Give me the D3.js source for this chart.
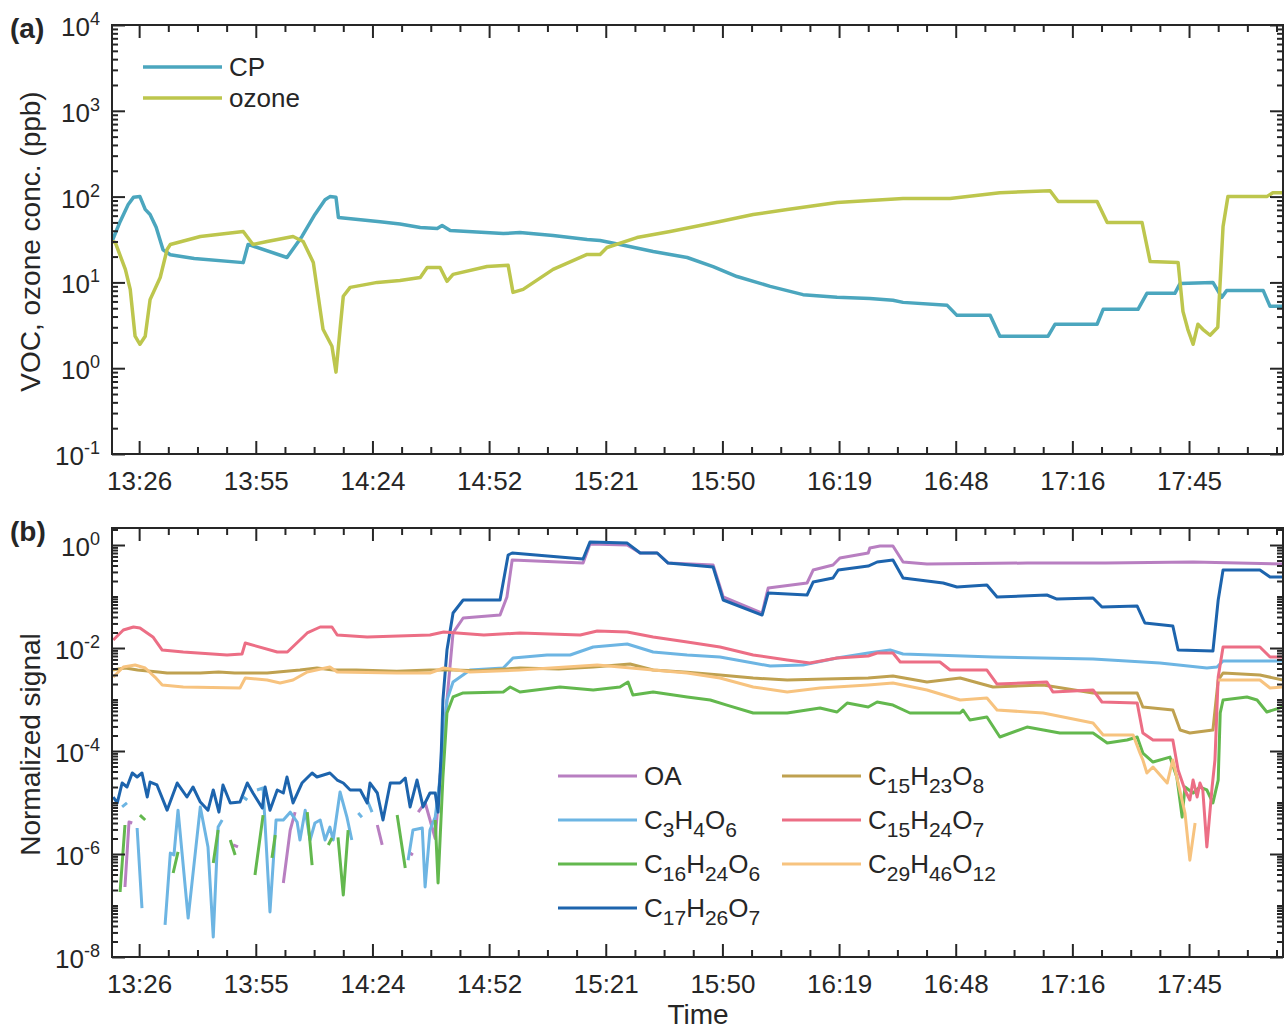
<!DOCTYPE html>
<html lang="en">
<head>
  <meta charset="utf-8">
  <title>VOC, ozone and normalized signals</title>
  <style>
    body {
      margin:0;
      background-color:#fff;
    }
    svg text {
      font-family:"Liberation Sans", Arial, sans-serif;
      fill:#262626;
    }
    .axis line {
      stroke:#262626;
      stroke-width:2;
    }
  </style>
</head>
<body>
  <svg id="chart" width="1285" height="1031"></svg>
  <script src="https://d3js.org/d3.v7.min.js"></script>
  <script>
    // times are minutes after midnight, ticks every 0.02 day
    var xTickTimes = [806.4, 835.2, 864.0, 892.8, 921.6, 950.4, 979.2, 1008.0, 1036.8, 1065.6];
    var xTickLabels = ["13:26","13:55","14:24","14:52","15:21","15:50","16:19","16:48","17:16","17:45"];
    var xDomain = [799.7, 1088.8];

    // panel (a): ppb
    var cp = [[799.7,30],[801.7,51],[803.7,81],[805.0,98],[806.6,100],[807.9,71],[809.1,62],[810.6,44],[812.3,24],[814.1,21],[820,19],[832.1,17],[833.3,27.7],[842.9,19.5],[846.6,34.3],[849.8,62],[852.3,92],[853.5,100],[855.0,98],[855.6,57],[865.9,51],[870.8,48],[875.8,43.6],[880.0,42.5],[881.2,46],[883.2,40.2],[896.3,37.1],[900.4,38.1],[908.6,35.2],[917.0,31.6],[920.2,30.8],[925.1,27.7],[933.3,22.9],[941.7,19.5],[948.1,15.3],[954.0,11.7],[962.2,9.0],[970.3,7.2],[978.7,6.7],[986.8,6.5],[992.5,6.2],[995.0,5.85],[1005.9,5.4],[1008.3,4.13],[1016.5,4.13],[1018.9,2.36],[1030.8,2.36],[1032.5,3.25],[1042.9,3.25],[1044.4,4.85],[1053.0,4.85],[1055.2,7.45],[1062.1,7.45],[1063.4,9.73],[1071.5,10],[1073.7,6.7],[1074.9,8.07],[1083.9,8.07],[1085.6,5.26],[1088.8,5.26]];
    var ozone = [[799.7,30],[800.5,29.2],[803.0,14.2],[804.2,8.3],[805.4,2.36],[806.6,1.9],[807.9,2.36],[809.1,6.3],[811.6,11.4],[813.3,24.2],[814.1,27.7],[821.5,34.3],[832.1,39.2],[834.5,27.7],[838.0,30.0],[844.4,34.3],[846.9,30.0],[849.4,17.1],[851.8,2.84],[854.0,1.8],[855.0,0.9],[856.0,2.84],[856.8,6.9],[858.5,8.75],[865.2,10],[870.8,10.5],[875.8,11.4],[877.5,14.9],[880.7,14.9],[882.4,10.3],[883.9,12.4],[892.3,15.3],[897.5,15.8],[898.7,7.65],[901.2,8.3],[908.6,14.2],[917.0,21.2],[920.2,21.2],[921.9,25.5],[929.3,33.3],[937.5,39.2],[949.8,51.2],[958.0,61.8],[966.4,70.6],[978.7,85.2],[986.8,89.8],[995.0,94.8],[1006.6,94.8],[1018.9,111],[1031.3,117],[1033.3,87.5],[1042.9,87.5],[1045.4,49.9],[1054.0,49.9],[1056.0,17.5],[1062.9,17.1],[1064.1,4.6],[1065.3,2.84],[1066.6,1.9],[1067.8,3.25],[1069.0,2.84],[1070.8,2.42],[1072.7,3.0],[1074.0,44.8],[1075.2,100],[1084.8,100],[1086.3,111],[1088.8,111]];

    // panel (b): normalized signal, null = gap
    var oa = [[802.9,2.29e-7],[803.9,4.18e-6],[804.7,4.0e-6],null,[829.6,1.5e-6],[830.8,1.37e-6],null,[842.0,2.74e-7],[843.7,2.92e-6],[844.9,6.5e-6],null,[865.2,3.66e-6],[866.4,1.5e-6],null,[873.3,1.04e-6],[874.0,9.6e-7],null,[875.3,6.5e-6],[877.0,1.0e-5],[879.5,2.0e-6],[880.7,3.1e-5],[882.4,9.8e-4],[883.9,0.0196],[886.4,0.0383],[895.5,0.0437],[897.2,0.0978],[898.5,0.511],[916.0,0.447],[917.7,1.05],[926.9,1.0],[930.1,0.70],[934.3,0.70],[937.0,0.447],[948.1,0.409],[950.6,0.0978],[960.2,0.0478],[961.7,0.146],[971.3,0.183],[972.8,0.327],[977.7,0.409],[979.4,0.56],[986.4,0.70],[986.8,0.875],[989.3,0.957],[992.5,0.957],[995.0,0.468],[1000.9,0.428],[1025.6,0.447],[1045,0.45],[1066.6,0.468],[1088.8,0.428]];
    var c3h4o6 = [[802.2,8.2e-6],[803.4,9.8e-6],null,[805.9,3.2e-6],[807.1,8.9e-8],null,[812.8,4.2e-8],[814.1,1.04e-6],[815.0,9.6e-7],[816.0,7.1e-6],[818.5,5.7e-8],[821.5,8.2e-6],[823.4,1.37e-6],[824.7,2.44e-8],[825.9,3.34e-6],[826.9,4.57e-6],null,[832.1,1.28e-5],[833.1,1.12e-5],null,[835.5,1.75e-5],[837.0,1.91e-5],[838.7,7.5e-8],[840.2,4.57e-6],[842.0,4.57e-6],[843.7,6.5e-6],[845.4,4.18e-6],[846.1,1.87e-6],[847.4,7.1e-6],[848.6,1.87e-6],[849.8,4.0e-6],[851.1,4.57e-6],[852.3,1.87e-6],[853.5,3.34e-6],[854.3,1.87e-6],[856.0,1.6e-5],[857.7,5.2e-6],[858.9,1.87e-6],null,[860.5,6.25e-6],[861.4,5.2e-6],null,[862.7,1.12e-5],[863.9,6.5e-6],null,[872.8,7.6e-7],[874.0,2.92e-6],[876.3,3.2e-6],[877.0,2.29e-7],[878.2,2.92e-6],[879.5,5.2e-6],[880.7,3.1e-5],[882.4,9.8e-4],[883.9,0.00219],[888.1,0.00374],[896.3,0.00409],[898.7,0.0064],[907.1,0.00731],[912.8,0.00731],[918.5,0.01045],[926.9,0.01197],[933.3,0.00836],[941.7,0.00731],[949.8,0.00669],[958.0,0.00512],[962.2,0.00447],[970.3,0.00468],[978.7,0.0064],[986.4,0.0080],[991.8,0.00914],[995.0,0.00764],[1017.2,0.00669],[1041.9,0.00611],[1058.4,0.00512],[1070.0,0.00409],[1072.5,0.00428],[1074.0,0.0056],[1088.8,0.0056]];
    var c16h24o6 = [[801.7,1.83e-7],[802.9,3.66e-6],null,[806.6,5.7e-6],[807.9,4.57e-6],null,[814.8,4.28e-7],[816.0,1.1e-6],null,[824.7,6.7e-7],[825.9,2.92e-6],null,[828.9,1.87e-6],[830.1,9.6e-7],null,[835.0,3.91e-7],[837.0,5.7e-6],null,[839.2,8.4e-7],[840.0,2.34e-6],null,[847.9,6.5e-6],[849.1,6.1e-7],null,[853.1,1.5e-6],[854.0,2.05e-6],null,[855.5,2.1e-6],[856.8,1.6e-7],[858.0,2.92e-6],null,[870.1,5.7e-6],[872.1,5.35e-7],null,[879.5,4.57e-6],[880.2,2.74e-7],[881.4,3.1e-5],[882.4,5.47e-4],[883.9,0.00112],[886.4,0.00134],[896.3,0.0014],[898.0,0.00175],[900.4,0.0014],[910.3,0.00175],[918.5,0.00153],[925.1,0.00175],[927.1,0.00219],[928.3,0.00122],[933.3,0.0014],[941.7,0.00112],[947.4,0.00098],[951.5,0.00078],[958.0,0.000547],[966.4,0.000547],[974.5,0.000684],[978.7,0.000572],[981.2,0.000855],[986.4,0.000715],[988.6,0.000894],[992.5,0.00078],[996.7,0.000547],[1009.1,0.000547],[1009.8,0.000625],[1011.5,0.0004],[1015.7,0.000457],[1018.9,0.000187],[1025.6,0.000292],[1033.7,0.000224],[1041.9,0.000224],[1045.4,0.000143],[1050.3,0.000164],[1052.8,0.000187],[1054.2,9.1e-5],[1056.7,6.1e-5],[1060.9,7.6e-5],[1062.6,3.1e-5],[1063.9,5.2e-6],[1064.6,2.0e-5],[1066.6,1.53e-5],[1068.3,2.0e-5],[1070.0,1.75e-5],[1071.5,9.8e-6],[1072.8,2.73e-5],[1073.3,0.000547],[1074.0,0.00098],[1079.9,0.00112],[1082.4,0.00098],[1084.8,0.000572],[1088.8,0.000715]];
    var c17h26o7 = [[800.0,1.28e-5],[801.0,9.8e-6],[802.2,2.39e-5],[803.4,2.0e-5],[804.7,3.74e-5],[805.9,3.13e-5],[807.1,3.74e-5],[808.4,1.28e-5],[809.1,2.5e-5],[810.8,2.19e-5],[813.3,7.1e-6],[815.8,2.39e-5],[818.2,1.28e-5],[819.7,2.0e-5],[821.5,1.02e-5],[823.4,7.1e-6],[824.7,1.75e-5],[826.1,6.5e-6],[827.1,2.19e-5],[828.9,9.8e-6],[831.3,1.02e-5],[833.1,2.39e-5],[834.5,1.53e-5],[836.8,7.8e-6],[837.5,2.0e-5],[838.7,7.1e-6],[840.5,1.75e-5],[842.0,1.53e-5],[842.9,3.13e-5],[844.4,9.8e-6],[846.6,2.39e-5],[849.1,3.74e-5],[850.3,3.13e-5],[853.5,3.74e-5],[855.3,2.73e-5],[856.8,2.39e-5],[858.5,1.75e-5],[861.0,1.75e-5],[862.7,9.8e-6],[863.4,2.39e-5],[865.2,1.53e-5],[866.6,4.57e-6],[868.4,2.39e-5],[870.8,2.39e-5],[872.1,2.99e-5],[873.3,8.2e-6],[875.0,2.73e-5],[876.5,8.2e-6],[878.2,1.53e-5],[879.5,1.53e-5],[880.2,6.5e-6],[881.0,1e-4],[881.4,9.8e-4],[882.4,0.00914],[883.9,0.0478],[886.4,0.0855],[895.5,0.0855],[897.5,0.64],[898.5,0.70],[916.0,0.535],[917.7,1.14],[926.9,1.09],[930.1,0.70],[934.3,0.70],[937.0,0.447],[948.1,0.374],[950.6,0.0855],[960.2,0.0437],[961.7,0.117],[971.3,0.107],[972.8,0.191],[977.7,0.229],[979.0,0.327],[986.4,0.391],[988.6,0.468],[992.5,0.511],[995.0,0.229],[1004.9,0.183],[1008.3,0.153],[1015.7,0.167],[1018.2,0.0978],[1030.5,0.107],[1033.0,0.0894],[1041.9,0.0935],[1044.1,0.0625],[1052.8,0.0654],[1054.7,0.0306],[1061.6,0.0267],[1062.9,0.00914],[1071.5,0.00874],[1072.8,0.0855],[1074.0,0.327],[1083.1,0.327],[1085.6,0.239],[1088.8,0.239]];
    var c15h23o8 = [[799.7,0.00374],[803.0,0.00409],[806,0.00374],[811.1,0.00342],[813.3,0.00327],[821.5,0.00327],[826,0.00342],[830,0.00327],[838.0,0.00327],[846.1,0.00374],[850.3,0.00409],[854.3,0.00374],[860,0.00374],[870,0.00355],[878.2,0.00374],[883.9,0.00374],[890,0.0036],[900.4,0.00409],[910,0.0039],[918.5,0.00428],[927.6,0.00489],[933.3,0.00374],[941.7,0.0034],[949.8,0.00299],[958.0,0.00261],[966.4,0.00239],[976,0.0025],[986.4,0.00261],[992.5,0.00286],[1000.9,0.00219],[1009.1,0.00261],[1017.2,0.00175],[1029.6,0.00191],[1041.9,0.00134],[1052.8,0.00134],[1054.2,0.000715],[1061.6,0.000625],[1063.4,0.000256],[1065.8,0.000224],[1071.5,0.000256],[1072.8,0.00239],[1074.0,0.00327],[1083.1,0.00299],[1088.8,0.00239]];
    var c15h24o7 = [[800.0,0.0143],[802.5,0.0224],[805.0,0.0256],[806.6,0.0245],[809.8,0.0164],[812.1,0.00914],[817.3,0.00836],[828.1,0.00731],[831.8,0.00764],[832.6,0.0125],[840.5,0.00836],[843.0,0.00836],[847.9,0.0196],[851.1,0.0256],[854.0,0.0256],[855.3,0.0179],[862.7,0.0164],[878.2,0.0179],[881.6,0.0205],[891.5,0.0179],[900.4,0.0196],[915.3,0.0179],[919.5,0.0214],[926.9,0.0205],[933.3,0.0164],[941.7,0.0131],[949.8,0.01045],[958.0,0.00731],[966.4,0.00585],[972.0,0.00512],[978.7,0.0064],[986.4,0.0070],[988.6,0.0080],[992.5,0.0080],[994.3,0.00535],[1004.1,0.00535],[1006.6,0.00374],[1015.7,0.00374],[1018.2,0.0020],[1030.5,0.00219],[1032.0,0.0014],[1041.9,0.00153],[1044.1,0.000894],[1052.8,0.000855],[1054.2,0.000224],[1056.7,0.000164],[1061.6,0.000164],[1062.9,4.27e-5],[1064.6,1.75e-5],[1065.8,1.12e-5],[1066.6,2.73e-5],[1067.6,1.28e-5],[1068.3,2.39e-5],[1069.0,1.75e-5],[1070.0,1.37e-6],[1071.3,2.0e-5],[1072.0,6.7e-5],[1072.8,0.00273],[1074.0,0.01045],[1083.1,0.01045],[1085.6,0.00669],[1088.8,0.00669]];
    var c29h46o12 = [[800.0,0.00273],[802.5,0.00428],[805.4,0.00468],[807.9,0.00409],[810.3,0.00273],[812.1,0.00191],[817.3,0.00175],[831.3,0.00167],[832.6,0.00261],[838.0,0.00239],[841.2,0.00209],[844.4,0.00239],[847.9,0.00342],[853.5,0.00428],[855.3,0.00342],[870,0.00327],[878.2,0.00327],[881.6,0.00409],[888.1,0.00342],[900.4,0.00374],[919.5,0.00468],[925.1,0.00428],[933.3,0.00374],[941.7,0.00327],[949.8,0.00261],[958.0,0.00175],[966.4,0.0014],[974.5,0.00167],[986.4,0.00191],[992.5,0.00209],[1000.9,0.00153],[1009.1,0.00098],[1015.7,0.00107],[1018.2,0.000625],[1029.6,0.000547],[1041.9,0.00035],[1044.4,0.000205],[1051.8,0.000205],[1053.5,9.1e-5],[1054.2,6.7e-5],[1055.2,3.74e-5],[1056.7,4.89e-5],[1060.2,2.39e-5],[1061.6,6.7e-5],[1064.6,6.25e-6],[1065.8,7.6e-7],[1067.1,4.0e-6],null,[1072.8,0.00239],[1074.0,0.00239],[1083.1,0.00239],[1085.6,0.00167],[1088.8,0.00175]];

    var left = 112, right = 1283;
    var svg = d3.select("#chart");

    var x = d3.scaleLinear().domain(xDomain).range([left, right]);

    // minor ticks every 7.2 min, skipping the labelled ones
    var xMinor = d3.range(0, 40).map(function(k){ return 806.4 + k * 7.2; })
        .filter(function(t, k){ return t <= xDomain[1] && k % 4 != 0; });

    function logMinors(lo, hi, every){
      var out = [];
      for(var k = lo; k <= hi; k++){
        for(var m = 2; m <= 9; m++){ out.push(m * Math.pow(10, k)); }
        if(every && (k % every) != 0){ out.push(Math.pow(10, k)); }
      }
      return out;
    }

    // "C15H23O8" -> [["C","15"],["H","23"],["O","8"]]
    function subParts(name){
      var parts = [], re = /(\D+)(\d*)/g, m;
      while((m = re.exec(name)) !== null){
        parts.push([m[1], m[2]]);
      }
      return parts;
    }

    function formula(sel, name){
      var low = false;
      subParts(name).forEach(function(p){
        sel.append("tspan").attr("dy", low ? -8 : 0).text(p[0]);
        low = false;
        if(p[1]){
          sel.append("tspan").attr("dy", 8).attr("font-size", 21).text(p[1]);
          low = true;
        }
      });
    }

    function panel(p){
      var g = svg.append("g");
      var y = d3.scaleLog().domain(p.yDomain).range([p.bottom, p.top]);

      svg.append("clipPath").attr("id", "clip-" + p.id)
        .append("rect")
        .attr("x", left).attr("y", p.top)
        .attr("width", right - left).attr("height", p.bottom - p.top);

      var line = d3.line()
          .defined(function(d){ return d !== null; })
          .x(function(d){ return x(d[0]); })
          .y(function(d){ return y(d[1]); });

      g.append("g")
        .attr("clip-path", "url(#clip-" + p.id + ")")
        .selectAll("path")
        .data(p.series).enter().append("path")
        .attr("d", function(s){ return line(s.data); })
        .attr("fill", "none")
        .attr("stroke", function(s){ return s.color; })
        .attr("stroke-width", p.lw)
        .attr("stroke-linejoin", "round");

      var ax = g.append("g").attr("class", "axis");
      ax.append("g").attr("transform", "translate(0," + p.bottom + ")")
        .call(d3.axisBottom(x).tickValues(xTickTimes).tickSizeInner(-13).tickSizeOuter(0).tickPadding(18)
          .tickFormat(function(d, i){ return xTickLabels[i]; }))
        .attr("font-size", 26);
      ax.append("g").attr("transform", "translate(0," + p.bottom + ")")
        .call(d3.axisBottom(x).tickValues(xMinor).tickSizeInner(-7).tickSizeOuter(0).tickFormat(""));
      ax.append("g").attr("transform", "translate(0," + p.top + ")")
        .call(d3.axisTop(x).tickValues(xTickTimes).tickSizeInner(-13).tickSizeOuter(0).tickFormat(""));
      ax.append("g").attr("transform", "translate(0," + p.top + ")")
        .call(d3.axisTop(x).tickValues(xMinor).tickSizeInner(-7).tickSizeOuter(0).tickFormat(""));

      var yMajor = p.yExps.map(function(e){ return Math.pow(10, e); });
      var yMinor = p.yMinor.filter(function(v){ return v >= p.yDomain[0] && v <= p.yDomain[1]; });
      [[d3.axisLeft, left], [d3.axisRight, right]].forEach(function(a){
        ax.append("g").attr("transform", "translate(" + a[1] + ",0)")
          .call(a[0](y).tickValues(yMajor).tickSizeInner(-13).tickSizeOuter(0).tickFormat(""));
        ax.append("g").attr("transform", "translate(" + a[1] + ",0)")
          .call(a[0](y).tickValues(yMinor).tickSizeInner(-6).tickSizeOuter(0).tickFormat(""));
      });
      ax.selectAll(".domain").remove();

      g.append("rect")
        .attr("x", left).attr("y", p.top)
        .attr("width", right - left).attr("height", p.bottom - p.top)
        .attr("fill", "none").attr("stroke", "#262626").attr("stroke-width", 2);

      g.selectAll(".ylab").data(p.yExps).enter().append("text")
        .attr("class", "ylab")
        .attr("x", 100)
        .attr("y", function(e){ return y(Math.pow(10, e)) + 11; })
        .attr("text-anchor", "end")
        .attr("font-size", 26)
        .each(function(e){
          var t = d3.select(this);
          t.append("tspan").text("10");
          t.append("tspan").attr("dy", -11).attr("font-size", 18).text(e);
        });

      g.append("text")
        .attr("transform", "translate(40," + ((p.top + p.bottom) / 2 + 2) + ") rotate(-90)")
        .attr("text-anchor", "middle")
        .attr("font-size", 28)
        .text(p.ylabel);

      g.append("text")
        .attr("x", 10).attr("y", p.top + 13)
        .attr("font-size", 28).attr("font-weight", "bold")
        .text(p.tag);

      var lg = g.selectAll(".leg").data(p.series).enter().append("g")
        .attr("transform", function(s, i){
          var c = p.legend(i);
          return "translate(" + c[0] + "," + c[1] + ")";
        });
      lg.append("line")
        .attr("x1", 0).attr("x2", 79)
        .attr("stroke", function(s){ return s.color; })
        .attr("stroke-width", p.lw);
      lg.append("text")
        .attr("x", 86).attr("y", 9)
        .attr("font-size", 26)
        .each(function(s){ formula(d3.select(this), s.name); });
    }

    panel({
      id: "a", tag: "(a)",
      top: 25, bottom: 454,
      yDomain: [0.1, 1e4],
      yExps: [-1, 0, 1, 2, 3, 4],
      yMinor: logMinors(-1, 3, 0),
      ylabel: "VOC, ozone conc. (ppb)",
      lw: 3.5,
      series: [
        {name: "CP", color: "#4BA6BE", data: cp},
        {name: "ozone", color: "#BDC64D", data: ozone}
      ],
      legend: function(i){ return [143, 67 + i * 31]; }
    });

    panel({
      id: "b", tag: "(b)",
      top: 528, bottom: 957,
      yDomain: [1e-8, 2.14],
      yExps: [-8, -6, -4, -2, 0],
      yMinor: logMinors(-8, 0, 2),
      ylabel: "Normalized signal",
      lw: 3,
      series: [
        {name: "OA", color: "#B87FC1", data: oa},
        {name: "C3H4O6", color: "#6DB5E3", data: c3h4o6},
        {name: "C16H24O6", color: "#63B84E", data: c16h24o6},
        {name: "C17H26O7", color: "#1D64AD", data: c17h26o7},
        {name: "C15H23O8", color: "#BFA150", data: c15h23o8},
        {name: "C15H24O7", color: "#EC6E85", data: c15h24o7},
        {name: "C29H46O12", color: "#F7C37F", data: c29h46o12}
      ],
      legend: function(i){
        return i < 4 ? [558, 776 + i * 44] : [782, 776 + (i - 4) * 44];
      }
    });

    svg.append("text")
      .attr("x", 698).attr("y", 1024)
      .attr("text-anchor", "middle")
      .attr("font-size", 28)
      .text("Time");
  </script>
</body>
</html>
